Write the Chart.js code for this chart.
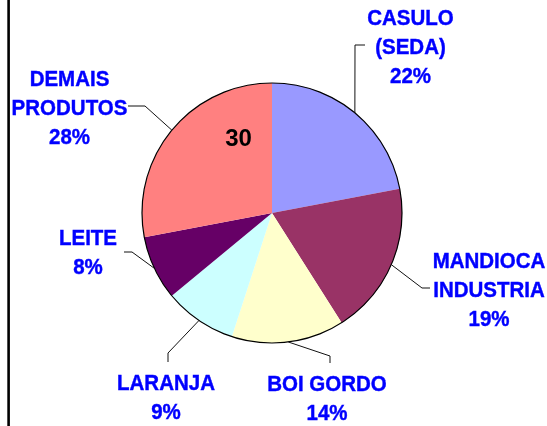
<!DOCTYPE html>
<html>
<head>
<meta charset="utf-8">
<script src="https://cdn.jsdelivr.net/npm/chart.js@4/dist/chart.umd.min.js"></script>
<style>
html,body{margin:0;padding:0;background:#fff;}
#wrap{width:547px;height:426px;position:relative;}
</style>
</head>
<body>
<div id="wrap"><canvas id="c" width="547" height="426"></canvas></div>
<script>
// ---- data ----
const categories = [['CASULO','(SEDA)'], ['MANDIOCA','INDUSTRIA'], ['BOI GORDO'], ['LARANJA'], ['LEITE'], ['DEMAIS','PRODUTOS']];
const shares = [22, 19, 14, 9, 8, 28];
const sliceColors = ['#9999FF', '#993366', '#FFFFCC', '#CCFFFF', '#660066', '#FF8080'];
const extraText = '30';

// ---- label layout (offsets from pie centre, px) ----
const labelLayout = [
  {elbow:[83,-168],  end:[93,-168],  text:[138.5,-188]},
  {elbow:[150,75],   end:[158,75],   text:[217,55]},
  {elbow:[58,143],   end:[58,150],   text:[55,178]},
  {elbow:[-104,140], end:[-104,149], text:[-106,177]},
  {elbow:[-140,39],  end:[-148,39],  text:[-184,32]},
  {elbow:[-127,-107],end:[-144,-107],text:[-202.5,-127]}
];
const lineH = 29;

const decor = {
  id:'decor',
  afterDatasetsDraw(chart){
    const ctx = chart.ctx;
    const meta = chart.getDatasetMeta(0);
    const arcs = meta.data;
    const cx = arcs[0].x, cy = arcs[0].y, r = arcs[0].outerRadius;
    const total = shares.reduce((a,b)=>a+b,0);
    ctx.save();
    // outer outline
    ctx.beginPath();
    ctx.arc(cx, cy, r, 0, Math.PI*2);
    ctx.strokeStyle = '#000';
    ctx.lineWidth = 1.2;
    ctx.stroke();
    // leader lines + labels
    arcs.forEach((a,i)=>{
      const mid = (a.startAngle + a.endAngle)/2;
      const px = cx + Math.cos(mid)*r, py = cy + Math.sin(mid)*r;
      const L = labelLayout[i];
      ctx.beginPath();
      ctx.moveTo(px, py);
      ctx.lineTo(cx + L.elbow[0], cy + L.elbow[1]);
      ctx.lineTo(cx + L.end[0], cy + L.end[1]);
      ctx.strokeStyle = '#111';
      ctx.lineWidth = 1;
      ctx.stroke();
      const lines = categories[i].concat([Math.round(shares[i]/total*100)+'%']);
      ctx.fillStyle = '#0000FF';
      ctx.strokeStyle = '#0000FF';
      ctx.lineWidth = 0.4;
      ctx.font = 'bold 20.5px "Liberation Sans", Arial, sans-serif';
      ctx.textAlign = 'center';
      ctx.textBaseline = 'alphabetic';
      lines.forEach((t,j)=>{
        const tx = cx + L.text[0], ty = cy + L.text[1] + j*lineH;
        ctx.save();
        ctx.translate(tx, ty);
        ctx.scale(1, 1.05);
        ctx.fillText(t, 0, 0);
        ctx.strokeText(t, 0, 0);
        ctx.restore();
      });
    });
    // stray "30" text
    ctx.fillStyle = '#000';
    ctx.font = 'bold 24px "Liberation Sans", Arial, sans-serif';
    ctx.textAlign = 'center';
    ctx.fillText(extraText, cx - 33.5, cy - 67);
    // left vertical rule
    ctx.fillStyle = '#000';
    ctx.fillRect(7.3, 0, 2.6, chart.height);
    ctx.restore();
  }
};

new Chart(document.getElementById('c'), {
  type: 'pie',
  data: {
    labels: categories.map(c=>c.join(' ')),
    datasets: [{
      data: shares,
      backgroundColor: sliceColors,
      borderWidth: 0,
      hoverOffset: 0
    }]
  },
  options: {
    responsive: false,
    animation: false,
    events: [],
    layout: {padding: {left:142, right:145, top:83, bottom:83}},
    plugins: {legend:{display:false}, tooltip:{enabled:false}}
  },
  plugins: [decor]
});
</script>
</body>
</html>
